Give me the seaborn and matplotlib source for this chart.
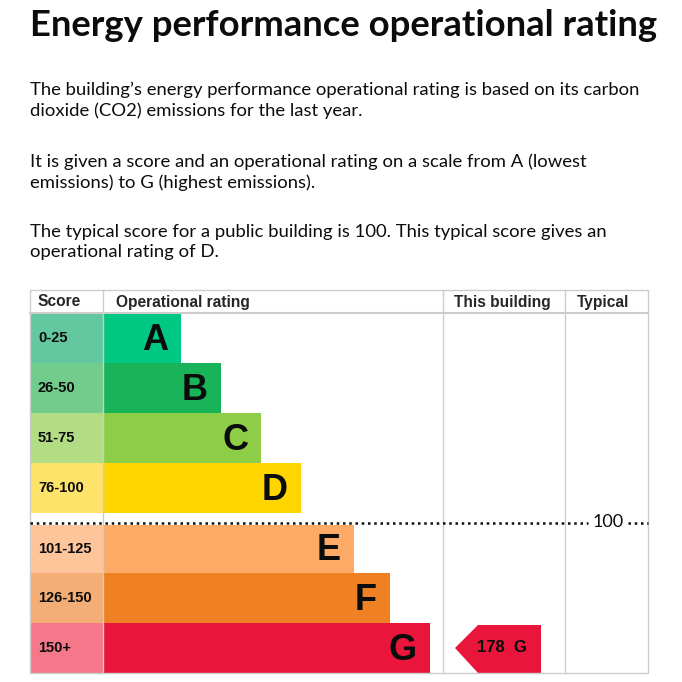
import matplotlib
matplotlib.use("Agg")
import matplotlib.pyplot as plt
from matplotlib.patches import Polygon
import seaborn as sns

# Data
bands = ['A', 'B', 'C', 'D', 'E', 'F', 'G']
score_ranges = ['0-25', '26-50', '51-75', '76-100', '101-125', '126-150', '150+']
bar_lengths = [78, 118, 158, 198, 251, 287, 327]
bar_colors = ['#00c781', '#19b459', '#8dce46', '#ffd500', '#fcaa65', '#ef8023', '#e9153b']
score_colors = ['#63c7a0', '#72cc8b', '#b3dd84', '#fee36a', '#fec59a', '#f4ad74', '#f4778a']
this_score = 178
this_band = 'G'
typical_score = 100

sns.set_theme(style="white")
plt.rcParams['font.family'] = ['Lato', 'DejaVu Sans']

fig = plt.figure(figsize=(6.82, 6.82), dpi=100)
ax = fig.add_axes([0, 0, 1, 1])
ax.set_xlim(0, 682)
ax.set_ylim(682, 0)
ax.axis('off')

ax.text(30, 26, 'Energy performance operational rating', fontsize=26.3, fontweight='bold',
        va='center', color='#0b0c0c')
paras = [(100, "The building\u2019s energy performance operational rating is based on its carbon\ndioxide (CO2) emissions for the last year."),
         (172, "It is given a score and an operational rating on a scale from A (lowest\nemissions) to G (highest emissions)."),
         (242, "The typical score for a public building is 100. This typical score gives an\noperational rating of D.")]
for y, t in paras:
    ax.text(30, y, t, fontsize=13.3, va='center', color='#0b0c0c', linespacing=1.35)

# table frame
grid = '#cccccc'
ax.plot([30, 648, 648, 30, 30], [290, 290, 673, 673, 290], color=grid, lw=1)
ax.plot([30, 648], [313, 313], color=grid, lw=1.5)
for x in [103, 443, 565]:
    ax.plot([x, x], [290, 673], color=grid, lw=1)
hfont = dict(fontsize=11.2, fontweight='bold', va='center', family=['Liberation Sans'])
ax.text(38, 302, 'Score', **hfont)
ax.text(116, 302, 'Operational rating', **hfont)
ax.text(454, 302, 'This building', **hfont)
ax.text(577, 302, 'Typical', **hfont)

# rows
tops = [313, 363, 413, 463, 525, 573, 623]
heights = [50, 50, 50, 50, 48, 50, 50]
for i, b in enumerate(bands):
    yc = tops[i] + heights[i] / 2
    ax.barh(yc, 73, left=30, height=heights[i], color=score_colors[i], lw=0)
    ax.barh(yc, bar_lengths[i], left=103, height=heights[i], color=bar_colors[i], lw=0)
    ax.text(38, yc, score_ranges[i], fontsize=10.5, fontweight='bold', va='center',
            family=['Liberation Sans'], color='#0b0c0c')
    ax.text(103 + bar_lengths[i] - 13, yc + 2, b, fontsize=26, fontweight='bold',
            va='center', ha='right', family=['Liberation Sans'], color='#0b0c0c')

# typical line
ax.plot([30, 588], [523, 523], color='#0b0c0c', lw=1.8, ls=(0, (1, 1.5)))
ax.plot([628, 648], [523, 523], color='#0b0c0c', lw=1.8, ls=(0, (1, 1.5)))
ax.text(608, 522, str(typical_score), fontsize=13, va='center', ha='center', color='#0b0c0c')

# this building arrow
gi = bands.index(this_band)
yc = tops[gi] + heights[gi] / 2
ax.add_patch(Polygon([[455, yc], [478, 625], [541, 625], [541, 673], [478, 673]],
                     closed=True, color=bar_colors[gi], lw=0))
ax.text(502, yc, f'{this_score}  {this_band}', fontsize=12, fontweight='bold',
        va='center', ha='center', family=['Liberation Sans'], color='#0b0c0c')

fig.savefig('out.png', dpi=100)
